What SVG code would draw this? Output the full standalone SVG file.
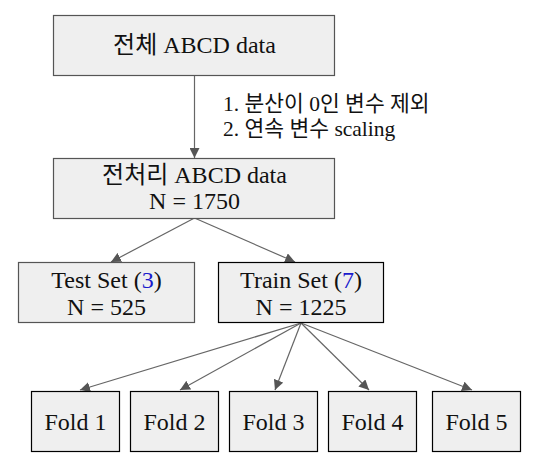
<svg xmlns="http://www.w3.org/2000/svg" width="536" height="463" viewBox="0 0 536 463">
<style>
text{font-family:"Liberation Serif","Noto Sans CJK KR",serif;font-size:24px;fill:#111;text-anchor:middle}
.ann{font-size:21.5px;text-anchor:start}
.l{font-family:"Liberation Serif",serif}
.g{fill:#efefef;stroke:#555;stroke-width:1.2}
.k{fill:#efefef;stroke:#000;stroke-width:1.2}
.e{stroke:#666;stroke-width:1.2;fill:none;marker-end:url(#ah)}
.b{fill:#1a1acc}
</style>
<defs>
<marker id="ah" viewBox="0 0 10 10" refX="10" refY="5" markerWidth="10" markerHeight="10" markerUnits="userSpaceOnUse" orient="auto">
<path d="M0,0 L10,5 L0,10 z" fill="#555"/>
</marker>
</defs>
<g id="edges">
<line class="e" x1="194.5" y1="75" x2="194.5" y2="158"/>
<line class="e" x1="194.5" y1="218" x2="111" y2="262"/>
<line class="e" x1="194.5" y1="218" x2="295" y2="262"/>
<line class="e" x1="301" y1="323" x2="80" y2="390"/>
<line class="e" x1="301" y1="323" x2="180" y2="390"/>
<line class="e" x1="301" y1="323" x2="275" y2="390"/>
<line class="e" x1="301" y1="323" x2="369" y2="390"/>
<line class="e" x1="301" y1="323" x2="472" y2="390"/>
</g>
<g id="label">
<text class="ann" x="223" y="111"><tspan class="l">1. </tspan>분산이<tspan class="l"> 0</tspan>인 변수 제외</text>
<text class="ann" x="223" y="136"><tspan class="l">2. </tspan>연속 변수<tspan class="l"> scaling</tspan></text>
</g>
<g id="all">
<rect class="g" x="53.5" y="15.5" width="281" height="60"/>
<text x="194.5" y="53">전체 ABCD data</text>
</g>
<g id="prep">
<rect class="g" x="53.5" y="158.5" width="281" height="60"/>
<text x="194.5" y="183">전처리 ABCD data</text>
<text x="194.5" y="209">N = 1750</text>
</g>
<g id="test">
<rect class="g" x="18.5" y="262.5" width="176" height="60"/>
<text x="106.5" y="288">Test Set (<tspan class="b">3</tspan>)</text>
<text x="106.5" y="315">N = 525</text>
</g>
<g id="train">
<rect class="k" x="218.5" y="262.5" width="165" height="60"/>
<text x="301" y="288">Train Set (<tspan class="b">7</tspan>)</text>
<text x="301" y="315">N = 1225</text>
</g>
<g id="fold1"><rect class="k" x="31.5" y="391.5" width="88" height="60"/><text x="75.5" y="430">Fold 1</text></g>
<g id="fold2"><rect class="k" x="130.5" y="391.5" width="88" height="60"/><text x="174.5" y="430">Fold 2</text></g>
<g id="fold3"><rect class="k" x="229.5" y="391.5" width="88" height="60"/><text x="273.5" y="430">Fold 3</text></g>
<g id="fold4"><rect class="k" x="328.5" y="391.5" width="88" height="60"/><text x="372.5" y="430">Fold 4</text></g>
<g id="fold5"><rect class="k" x="432.5" y="391.5" width="88" height="60"/><text x="476.5" y="430">Fold 5</text></g>
</svg>
